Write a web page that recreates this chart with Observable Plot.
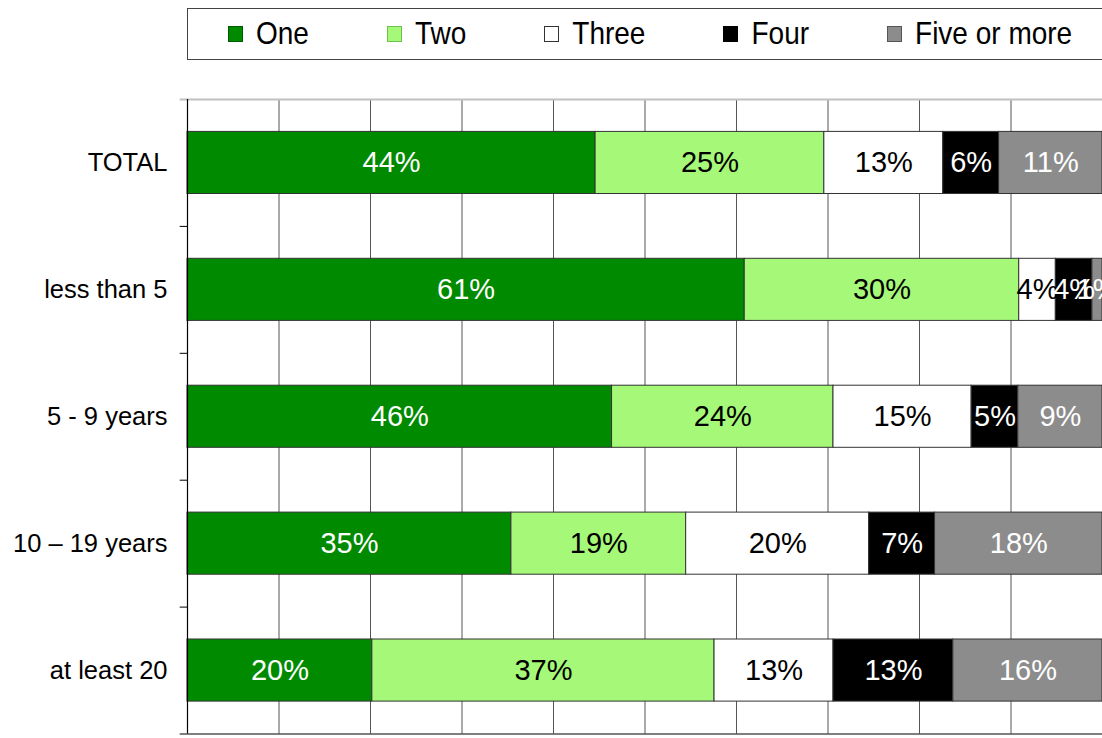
<!DOCTYPE html>
<html>
<head>
<meta charset="utf-8">
<script src="https://cdn.jsdelivr.net/npm/d3@7"></script>
<script src="https://cdn.jsdelivr.net/npm/@observablehq/plot@0.6"></script>
<style>
  html, body { margin: 0; padding: 0; background: #fff; }
  #wrap { position: relative; width: 1102px; height: 738px; overflow: hidden; font-family: "Liberation Sans", Arial, sans-serif; }
  #legend { position: absolute; left: 187px; top: 8px; width: 940px; height: 50px; border: 1px solid #444; box-sizing: content-box;
            display: flex; align-items: center; padding-left: 40px; gap: 78px; background: #fff; }
  .item { display: flex; align-items: center; gap: 13px; font-size: 28px; color: #000; }
  .item span { display: inline-block; transform: scaleY(1.12); }
  .sw { width: 13px; height: 14px; border: 1px solid #333; }
  #chart { position: absolute; left: 0; top: 0; }
</style>
</head>
<body>
<div id="wrap">
  <div id="chart"></div>
  <div id="legend"></div>
</div>
<script>
const categories = ["TOTAL", "less than 5", "5 - 9 years", "10 – 19 years", "at least 20"];
const series = ["One", "Two", "Three", "Four", "Five or more"];
const seriesColors = ["#008a00", "#a6f878", "#ffffff", "#000000", "#8c8c8c"];
const swatchBorders = ["#005a00", "#6cc050", "#333333", "#000000", "#555555"];
const labelColors = ["#ffffff", "#000000", "#000000", "#ffffff", "#ffffff"];
// values per category, in series order (percent)
const valTotal   = [44.6, 25.0, 13.0, 6.1, 11.3];
const valLess5   = [60.9, 30.0, 4.0, 4.0, 1.1];
const val5to9    = [46.4, 24.2, 15.1, 5.1, 9.2];
const val10to19  = [35.4, 19.1, 20.0, 7.2, 18.3];
const val20plus  = [20.2, 37.4, 13.0, 13.1, 16.3];
// labels as printed on the chart
const lblTotal   = [44, 25, 13, 6, 11];
const lblLess5   = [61, 30, 4, 4, 1];
const lbl5to9    = [46, 24, 15, 5, 9];
const lbl10to19  = [35, 19, 20, 7, 18];
const lbl20plus  = [20, 37, 13, 13, 16];
const gridTicks = [10, 20, 30, 40, 50, 60, 70, 80, 90, 100];

const allVals = [valTotal, valLess5, val5to9, val10to19, val20plus];
const allLbls = [lblTotal, lblLess5, lbl5to9, lbl10to19, lbl20plus];

const rows = [];
categories.forEach((c, ci) => {
  series.forEach((s, si) => {
    rows.push({cat: c, series: s, si, value: allVals[ci][si], label: allLbls[ci][si] + "%"});
  });
});

const W = 1102, H = 738, mTop = 99, mBottom = 4.5, mLeft = 187, mRight = 0;
const step = (H - mTop - mBottom) / categories.length;
const barInset = 32.4;

const chart = Plot.plot({
  width: W,
  height: H,
  marginTop: mTop,
  marginBottom: mBottom,
  marginLeft: mLeft,
  marginRight: mRight,
  style: {fontFamily: '"Liberation Sans", Arial, sans-serif', background: "transparent", overflow: "visible"},
  x: {domain: [0, 100], axis: null},
  y: {domain: categories, padding: 0, round: false, axis: null},
  color: {type: "identity"},
  marks: [
    Plot.ruleX(gridTicks, {stroke: "#555", strokeWidth: 1}),
    Plot.ruleY([categories[0]], {dy: -step / 2, stroke: "#c0c0c0", strokeWidth: 2, x1: -0.8, x2: 100}),
    Plot.barX(rows, Plot.stackX({
      x: "value", y: "cat", order: "si",
      fill: d => seriesColors[d.si],
      stroke: "#333", strokeWidth: 1,
      insetTop: barInset, insetBottom: barInset
    })),
    Plot.text(rows, Plot.stackX({
      x: "value", y: "cat", order: "si",
      text: "label",
      fill: d => labelColors[d.si],
      fontSize: 29
    })),
    Plot.ruleX([0], {stroke: "#000", strokeWidth: 1.2}),
    Plot.ruleY(categories.slice(1), {dy: -step / 2, x1: -0.8, x2: 0, stroke: "#000"}),
    Plot.ruleY([categories[categories.length - 1]], {dy: step / 2, x1: -0.8, x2: 100, stroke: "#000", strokeWidth: 1.2}),
    Plot.axisY({tickSize: 0, tickPadding: 20, fontSize: 25.5, label: null, color: "#000"})
  ]
});
document.getElementById("chart").appendChild(chart);

const legend = document.getElementById("legend");
series.forEach((s, i) => {
  const item = document.createElement("div");
  item.className = "item";
  const sw = document.createElement("div");
  sw.className = "sw";
  sw.style.background = seriesColors[i];
  sw.style.borderColor = swatchBorders[i];
  const t = document.createElement("span");
  t.textContent = s;
  item.appendChild(sw);
  item.appendChild(t);
  legend.appendChild(item);
});
</script>
</body>
</html>
